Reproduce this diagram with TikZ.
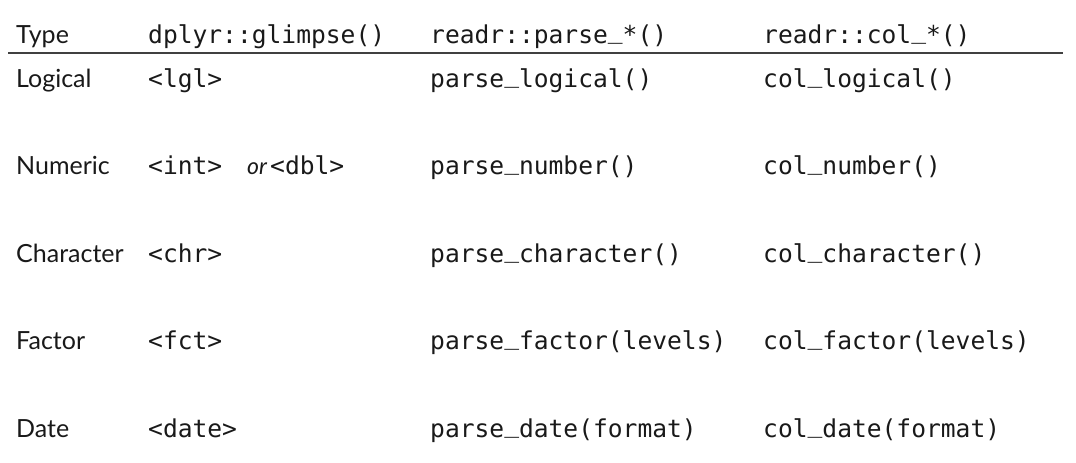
\documentclass[tikz,border=0pt]{standalone}
\usepackage{fontspec}
\setmainfont{Lato}
\setmonofont{DejaVu Sans Mono}
\newcommand{\us}{\raisebox{0.2em}{\_}}
\begin{document}
\begin{tikzpicture}[x=1pt,y=-1pt,
  txt/.style={anchor=base west,inner sep=0pt,font=\fontsize{25}{30}\selectfont,text=black!90},
  code/.style={anchor=base west,inner sep=0pt,font=\fontsize{24.6}{28}\selectfont\ttfamily,text=black!90},
  rulestyle/.style={draw=black!75,line width=1.6pt}]
\useasboundingbox (0,0) rectangle (1076,463);
% header
\node[txt]  (h1) at (16,43) {Type};
\node[code] (h2) at (148,43) {dplyr::glimpse()};
\node[code] (h3) at (430,43) {readr::parse\us*()};
\node[code] (h4) at (763,43) {readr::col\us*()};
\coordinate (rl) at (8,53);
\coordinate (rr) at (1063,53);
\draw[rulestyle] (rl) -- (rr);
% rows
\node[txt]  (r1a) at (16,87) {Logical};
\node[code] (r1b) at (148,87) {<lgl>};
\node[code] (r1c) at (430,87) {parse\us logical()};
\node[code] (r1d) at (763,87) {col\us logical()};

\node[txt]  (r2a) at (16,174.5) {Numeric};
\node[code] (r2b) at (148,174.5) {<int>};
\node[txt,font=\fontsize{23}{26}\selectfont\itshape] (r2o) at (247,174.5) {or};
\node[code] (r2c) at (270,174.5) {<dbl>};
\node[code] (r2d) at (430,174.5) {parse\us number()};
\node[code] (r2e) at (763,174.5) {col\us number()};

\node[txt]  (r3a) at (16,262) {Character};
\node[code] (r3b) at (148,262) {<chr>};
\node[code] (r3c) at (430,262) {parse\us character()};
\node[code] (r3d) at (763,262) {col\us character()};

\node[txt]  (r4a) at (16,349.5) {Factor};
\node[code] (r4b) at (148,349.5) {<fct>};
\node[code] (r4c) at (430,349.5) {parse\us factor(levels)};
\node[code] (r4d) at (763,349.5) {col\us factor(levels)};

\node[txt]  (r5a) at (16,437) {Date};
\node[code] (r5b) at (148,437) {<date>};
\node[code] (r5c) at (430,437) {parse\us date(format)};
\node[code] (r5d) at (763,437) {col\us date(format)};
\end{tikzpicture}
\end{document}
